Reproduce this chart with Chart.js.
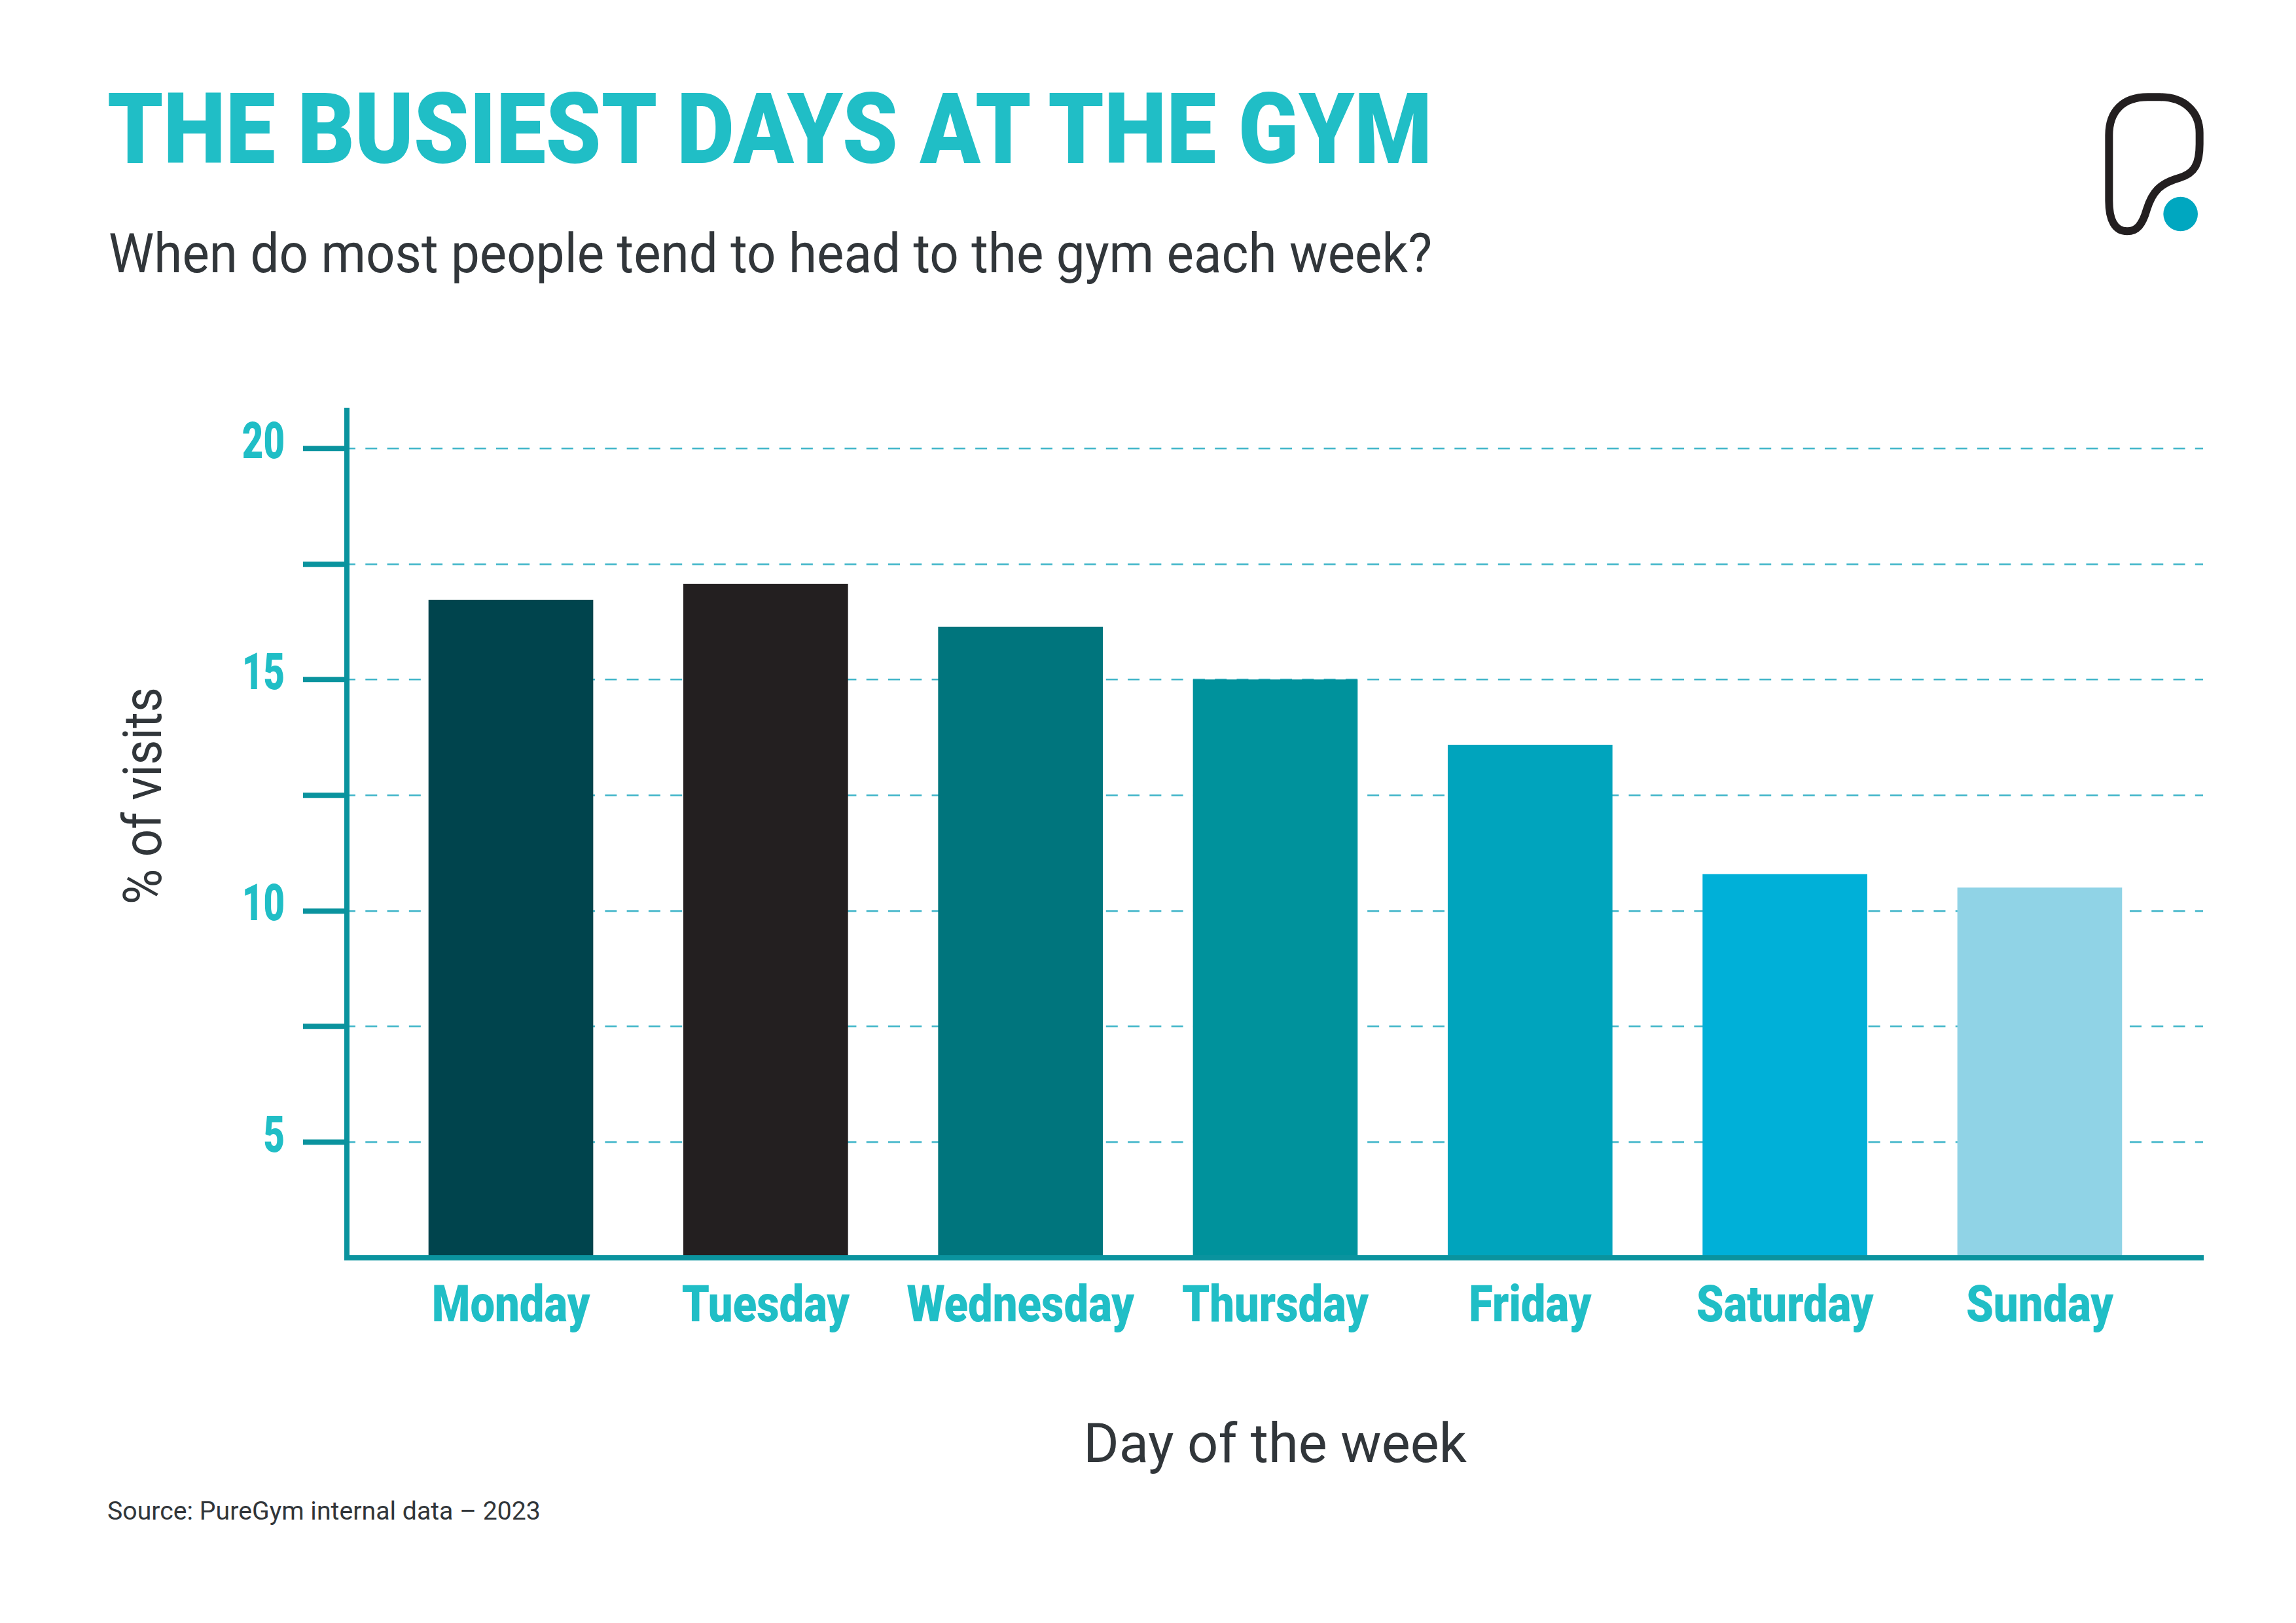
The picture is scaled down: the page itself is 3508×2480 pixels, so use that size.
<!DOCTYPE html>
<html>
<head>
<meta charset="utf-8">
<title>The busiest days at the gym</title>
<script src="https://cdn.jsdelivr.net/npm/chart.js@4"></script>
<style>
    html, body { margin: 0; padding: 0; background: #fff; }
    #page { position: relative; width: 3508px; height: 2480px; overflow: hidden; }
    #myChart { position: absolute; left: 0; top: 0; }
    .txt { position: absolute; white-space: nowrap; line-height: 1; font-family: Roboto, sans-serif; color: #31363a; transform-origin: 0 0; }
    #title { left: 164px; top: 123px; font-size: 150px; font-weight: 900; color: #20bec6; }
    #subtitle { left: 166px; top: 346px; font-size: 83px; }
    #source { left: 164px; top: 2290px; font-size: 39px; }
    #yTitle { left: 177px; top: 1216px; font-size: 82px; }
    #logo { position: absolute; left: 3100px; top: 80px; }
</style>
</head>
<body>
<div id="page">
    <div class="txt" id="title">THE BUSIEST DAYS AT THE GYM</div>
    <div class="txt" id="subtitle">When do most people tend to head to the gym each week?</div>
    <div class="txt" id="yTitle">% of visits</div>
    <div class="txt" id="source">Source: PureGym internal data – 2023</div>
    <svg id="logo" width="408" height="350" viewBox="0 0 1224 1050">
        <path d="M367 380C367 270 430 205 545 205L600 205C710 205 782 270 782 370L782 420C782 510 760 555 690 575C600 600 565 640 540 720C520 790 495 820 450 820C395 820 367 770 367 680Z" fill="none" stroke="#231f20" stroke-width="36"/>
        <circle cx="695" cy="741" r="79" fill="#00a7c0"/>
    </svg>
    <canvas id="myChart" width="3508" height="2480"></canvas>
</div>
<script>
const categories = ['Monday', 'Tuesday', 'Wednesday', 'Thursday', 'Friday', 'Saturday', 'Sunday'];
const visits = [16.72, 17.07, 16.14, 15.0, 13.59, 10.79, 10.5];
const barColors = ['#00444d', '#231f20', '#00757d', '#00929c', '#00a4bd', '#00b0d8', '#90d3e6'];
const yTicks = [5, 7.5, 10, 12.5, 15, 17.5, 20];

const axisColor = '#0a939e';
const tickFont = { family: 'Roboto, sans-serif', size: 77, weight: '900' };

// squeeze html text to the width it has in the picture
function fit(id, width, before) {
    const el = document.getElementById(id);
    const ratio = width / el.offsetWidth;
    el.style.transform = (before || '') + ' scaleX(' + ratio + ')';
}
fit('title', 2024);
fit('subtitle', 2022);
fit('source', 662);
fit('yTitle', 332, 'rotate(-90deg) translateX(-166px)');

const ctx = document.getElementById('myChart');

// the original tick labels are in a condensed face, none is installed
const squeezePlugin = {
    id: 'squeeze',
    beforeDraw(chart) {
        const c = chart.ctx;
        const fillText = c.fillText.bind(c);
        c.fillText = (text, x, y) => {
            let ratio = 1;
            if (/^\d+$/.test(text)) ratio = 0.73;
            if (categories.includes(text)) ratio = 0.87;
            fillText(text, x, y, c.measureText(text).width * ratio);
        };
    }
};

new Chart(ctx, {
    type: 'bar',
    data: {
        labels: categories,
        datasets: [{
            label: '% of visits',
            data: categories.map((c, i) => ({ x: i, y: visits[i] })),
            backgroundColor: barColors,
            borderWidth: 0,
            barThickness: 251
        }]
    },
    plugins: [squeezePlugin],
    options: {
        responsive: false,
        animation: false,
        devicePixelRatio: 1,
        layout: { padding: { top: 627, left: 0, right: 142, bottom: 217 } },
        plugins: { legend: { display: false }, tooltip: { enabled: false } },
        scales: {
            x: {
                type: 'linear',
                offset: false,
                min: -0.6435,
                max: 6.641,
                afterBuildTicks: axis => { axis.ticks = categories.map((c, i) => ({ value: i })); },
                afterFit: axis => { axis.height = 341; },
                grid: { display: false, drawTicks: false, offset: false },
                border: { display: true, color: axisColor, width: 8, z: 1 },
                ticks: {
                    color: '#20bec6',
                    font: tickFont,
                    padding: 32,
                    autoSkip: false,
                    maxRotation: 0,
                    minRotation: 0,
                    callback: value => categories[value]
                },
                title: {
                    display: true,
                    text: 'Day of the week',
                    color: '#31363a',
                    font: { family: 'Roboto, sans-serif', size: 83 },
                    padding: 0
                }
            },
            y: {
                min: 2.5,
                max: 20.825,
                afterBuildTicks: axis => { axis.ticks = yTicks.map(value => ({ value })); },
                afterFit: axis => { axis.width = 530; },
                grid: {
                    color: '#3db4c8',
                    lineWidth: 2.5,
                    tickColor: axisColor,
                    tickWidth: 8,
                    tickLength: 67
                },
                border: { display: true, color: axisColor, width: 8, dash: [18, 15.28], dashOffset: 9 },
                ticks: {
                    color: '#20bec6',
                    font: tickFont,
                    padding: 28,
                    labelOffset: -5,
                    callback: value => (value % 5 === 0 ? value : '')
                }
            }
        }
    }
});
</script>
</body>
</html>
